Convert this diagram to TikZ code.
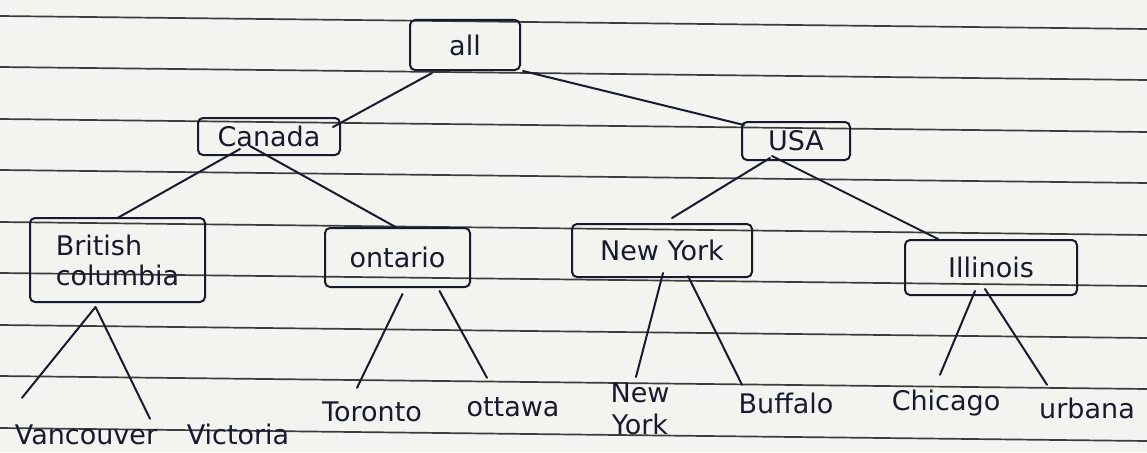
\documentclass[tikz,border=0pt]{standalone}
\usepackage{fontspec}
\setmainfont{DejaVu Sans}
\usetikzlibrary{calc}
\definecolor{ink}{RGB}{24,26,48}
\definecolor{ruling}{RGB}{60,60,62}
\definecolor{paper}{RGB}{243,243,240}

\begin{document}
\begin{tikzpicture}[x=1pt,y=-1pt,line join=round,line cap=round,
  box/.style={draw=ink,line width=2pt,rounded corners=5pt,inner sep=2pt,text=ink,font=\fontsize{27}{30}\selectfont},
  leaf/.style={anchor=base,inner sep=0pt,text height=20pt,text=ink,font=\fontsize{27}{30}\selectfont},
  edge/.style={draw=ink,line width=2pt}]
  \fill[paper] (0,0) rectangle (1147,452); \useasboundingbox (0,0) rectangle (1147,452);
  % ruled paper
  \foreach \y in {16,67,119,170,222,273,325,376,428} \draw[ruling,line width=1.7pt] (0,\y) -- (1147,\y+13);
  % inner nodes
  \node[box,minimum width=110pt,minimum height=50pt] (all) at (465,45) {all};
  \node[box,minimum width=142pt,minimum height=37pt] (canada) at (269,136.5) {Canada};
  \node[box,minimum width=108pt,minimum height=38pt] (usa) at (796,141) {USA};
  \node[box,minimum width=175pt,minimum height=84pt,align=left] (bc) at (117.5,260) {British\\columbia};
  \node[box,minimum width=145pt,minimum height=59pt] (ont) at (397.5,257.5) {ontario};
  \node[box,minimum width=180pt,minimum height=53pt] (nyb) at (662,250.5) {New York};
  \node[box,minimum width=172pt,minimum height=55pt] (ill) at (991,267.5) {Illinois};
  % leaves
  \node[leaf] (van) at (86,444) {Vancouver}; \node[leaf] (vic) at (238,444) {Victoria};
  \node[leaf] (tor) at (372,421) {Toronto}; \node[leaf] (ott) at (513,416) {ottawa};
  \node[anchor=north,inner sep=0pt,align=center,text=ink,font=\fontsize{27}{30}\selectfont] (nyc) at (640,383) {New\\[2pt]York};
  \node[leaf] (buf) at (786,413) {Buffalo}; \node[leaf] (chi) at (946,410) {Chicago}; \node[leaf] (urb) at (1087,418) {urbana};
  % connectors
  \draw[edge] ($(all.south)+(-33,2)$) -- ($(canada.north east)+(-8,10)$);
  \draw[edge] ($(all.south east)+(2,0)$) -- ($(usa.north west)+(3,4)$);
  \draw[edge] ($(canada.south)+(-29,-7)$) -- ($(bc.north)+(0,1)$);
  \draw[edge] ($(canada.south)+(-19,-10)$) -- ($(ont.north)+(-2,0)$);
  \draw[edge] ($(usa.south)+(-26,-3)$) -- ($(nyb.north)+(10,-5)$);
  \draw[edge] ($(usa.south)+(-24,-5)$) -- ($(ill.north)+(-53,0)$);
  \draw[edge] ($(bc.south)+(-22,4)$) -- ($(van.north)+(-64,-26)$);
  \draw[edge] ($(bc.south)+(-22,4)$) -- ($(vic.north)+(-88,-5)$);
  \draw[edge] ($(ont.south)+(5,6)$) -- ($(tor.north)+(-15,-13)$);
  \draw[edge] ($(ont.south)+(42,3)$) -- ($(ott.north)+(-26,-18)$);
  \draw[edge] ($(nyb.south)+(1,-5)$) -- ($(nyc.north)+(-4,-6)$);
  \draw[edge] ($(nyb.south)+(26,-2)$) -- ($(buf.north)+(-44,-8)$);
  \draw[edge] ($(ill.south)+(-16,-5)$) -- ($(chi.north)+(-6,-15)$);
  \draw[edge] ($(ill.south)+(-6,-7)$) -- ($(urb.north)+(-40,-13)$);
\end{tikzpicture}
\end{document}
